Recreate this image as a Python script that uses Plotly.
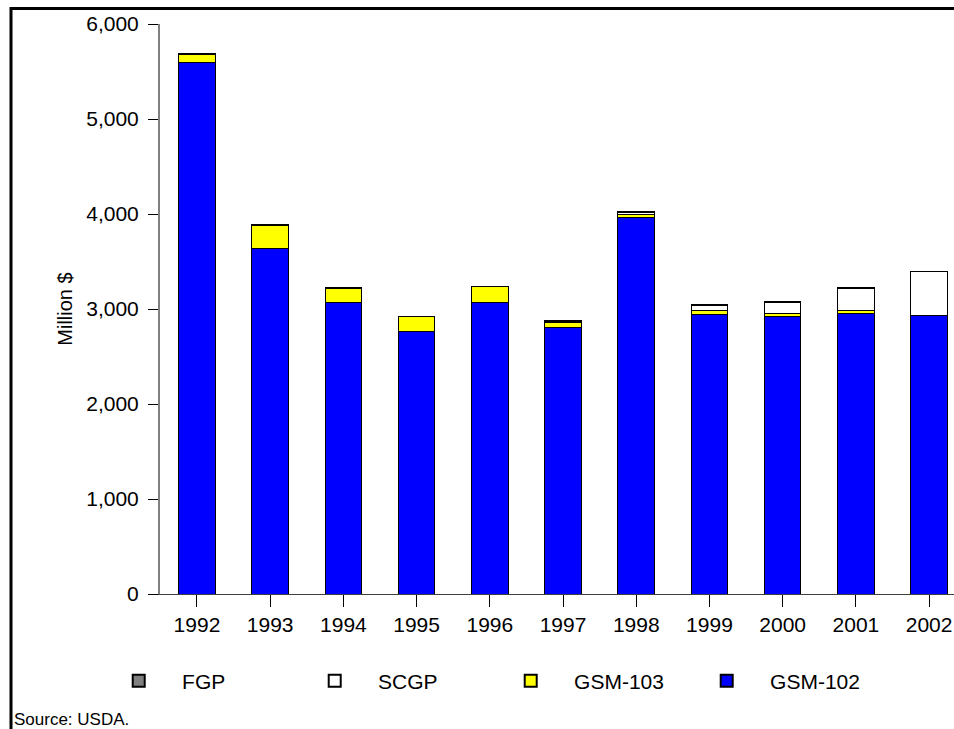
import plotly.graph_objects as go

years = ["1992", "1993", "1994", "1995", "1996", "1997", "1998", "1999", "2000", "2001", "2002"]
gsm102 = [5590, 3635, 3070, 2768, 3070, 2804, 3960, 2944, 2923, 2954, 2934]
gsm103 = [90, 245, 150, 150, 165, 55, 35, 40, 30, 30, 0]
scgp = [0, 0, 0, 0, 0, 10, 25, 55, 120, 235, 460]
fgp = [5, 5, 5, 5, 5, 10, 10, 10, 10, 5, 5]

series = [
    ("GSM-102", gsm102, "#0000ff"),
    ("GSM-103", gsm103, "#ffff00"),
    ("SCGP", scgp, "#ffffff"),
    ("FGP", fgp, "#808080"),
]

FONT = "Liberation Sans, Arial, sans-serif"
PAD = "\u00a0" * 4

fig = go.Figure()
for name, vals, col in series:
    fig.add_trace(go.Bar(
        x=years, y=vals, name=PAD + name, width=0.5,
        marker=dict(color=col, line=dict(color="#000000", width=1)),
    ))

fig.update_layout(
    barmode="stack",
    width=954, height=729,
    margin=dict(l=160, r=0, t=24, b=135),
    paper_bgcolor="white", plot_bgcolor="white",
    font=dict(family=FONT, size=21, color="#000000"),
    showlegend=True,
    legend=dict(
        orientation="h", traceorder="reversed",
        x=-0.052, xanchor="left", y=-0.1526, yanchor="middle",
        entrywidth=151, entrywidthmode="pixels",
        font=dict(family=FONT, size=21),
        itemsizing="constant",
    ),
    xaxis=dict(
        type="category", range=[-0.505, 10.34],
        showline=True, linecolor="#404040", linewidth=1,
        ticks="outside", ticklen=12, tickcolor="#000000",
        tickfont=dict(family=FONT, size=21),
        showgrid=False, zeroline=False,
    ),
    yaxis=dict(
        range=[0, 6000], tickvals=[0, 1000, 2000, 3000, 4000, 5000, 6000],
        tickformat=",d",
        showline=True, linecolor="#808080", linewidth=2,
        ticks="outside", ticklen=10, tickcolor="#000000",
        ticklabelstandoff=5,
        tickfont=dict(family=FONT, size=21),
        showgrid=False, zeroline=False,
        title=dict(text="Million $", font=dict(family=FONT, size=20), standoff=8),
    ),
)

# frame lines (paper coords)
W, H = 954, 729
L, T, B = 160, 24, 135
pw, ph = W - L, H - T - B
def px(x):
    return (x - L) / pw
def py(y):
    return (H - B - y) / ph

fig.add_shape(type="line", xref="paper", yref="paper",
              x0=px(11), x1=px(11), y0=py(7), y1=py(729), line=dict(color="black", width=3))
fig.add_shape(type="line", xref="paper", yref="paper",
              x0=px(10), x1=px(954), y0=py(8.5), y1=py(8.5), line=dict(color="black", width=3))

fig.add_annotation(text="Source: USDA.", xref="paper", yref="paper",
                   x=px(12), y=py(719), xanchor="left", yanchor="middle",
                   showarrow=False, font=dict(family=FONT, size=17))

fig.write_html("out.html", config={"displayModeBar": False},
               post_script="document.body.style.margin='0';document.body.style.overflow='hidden';")
